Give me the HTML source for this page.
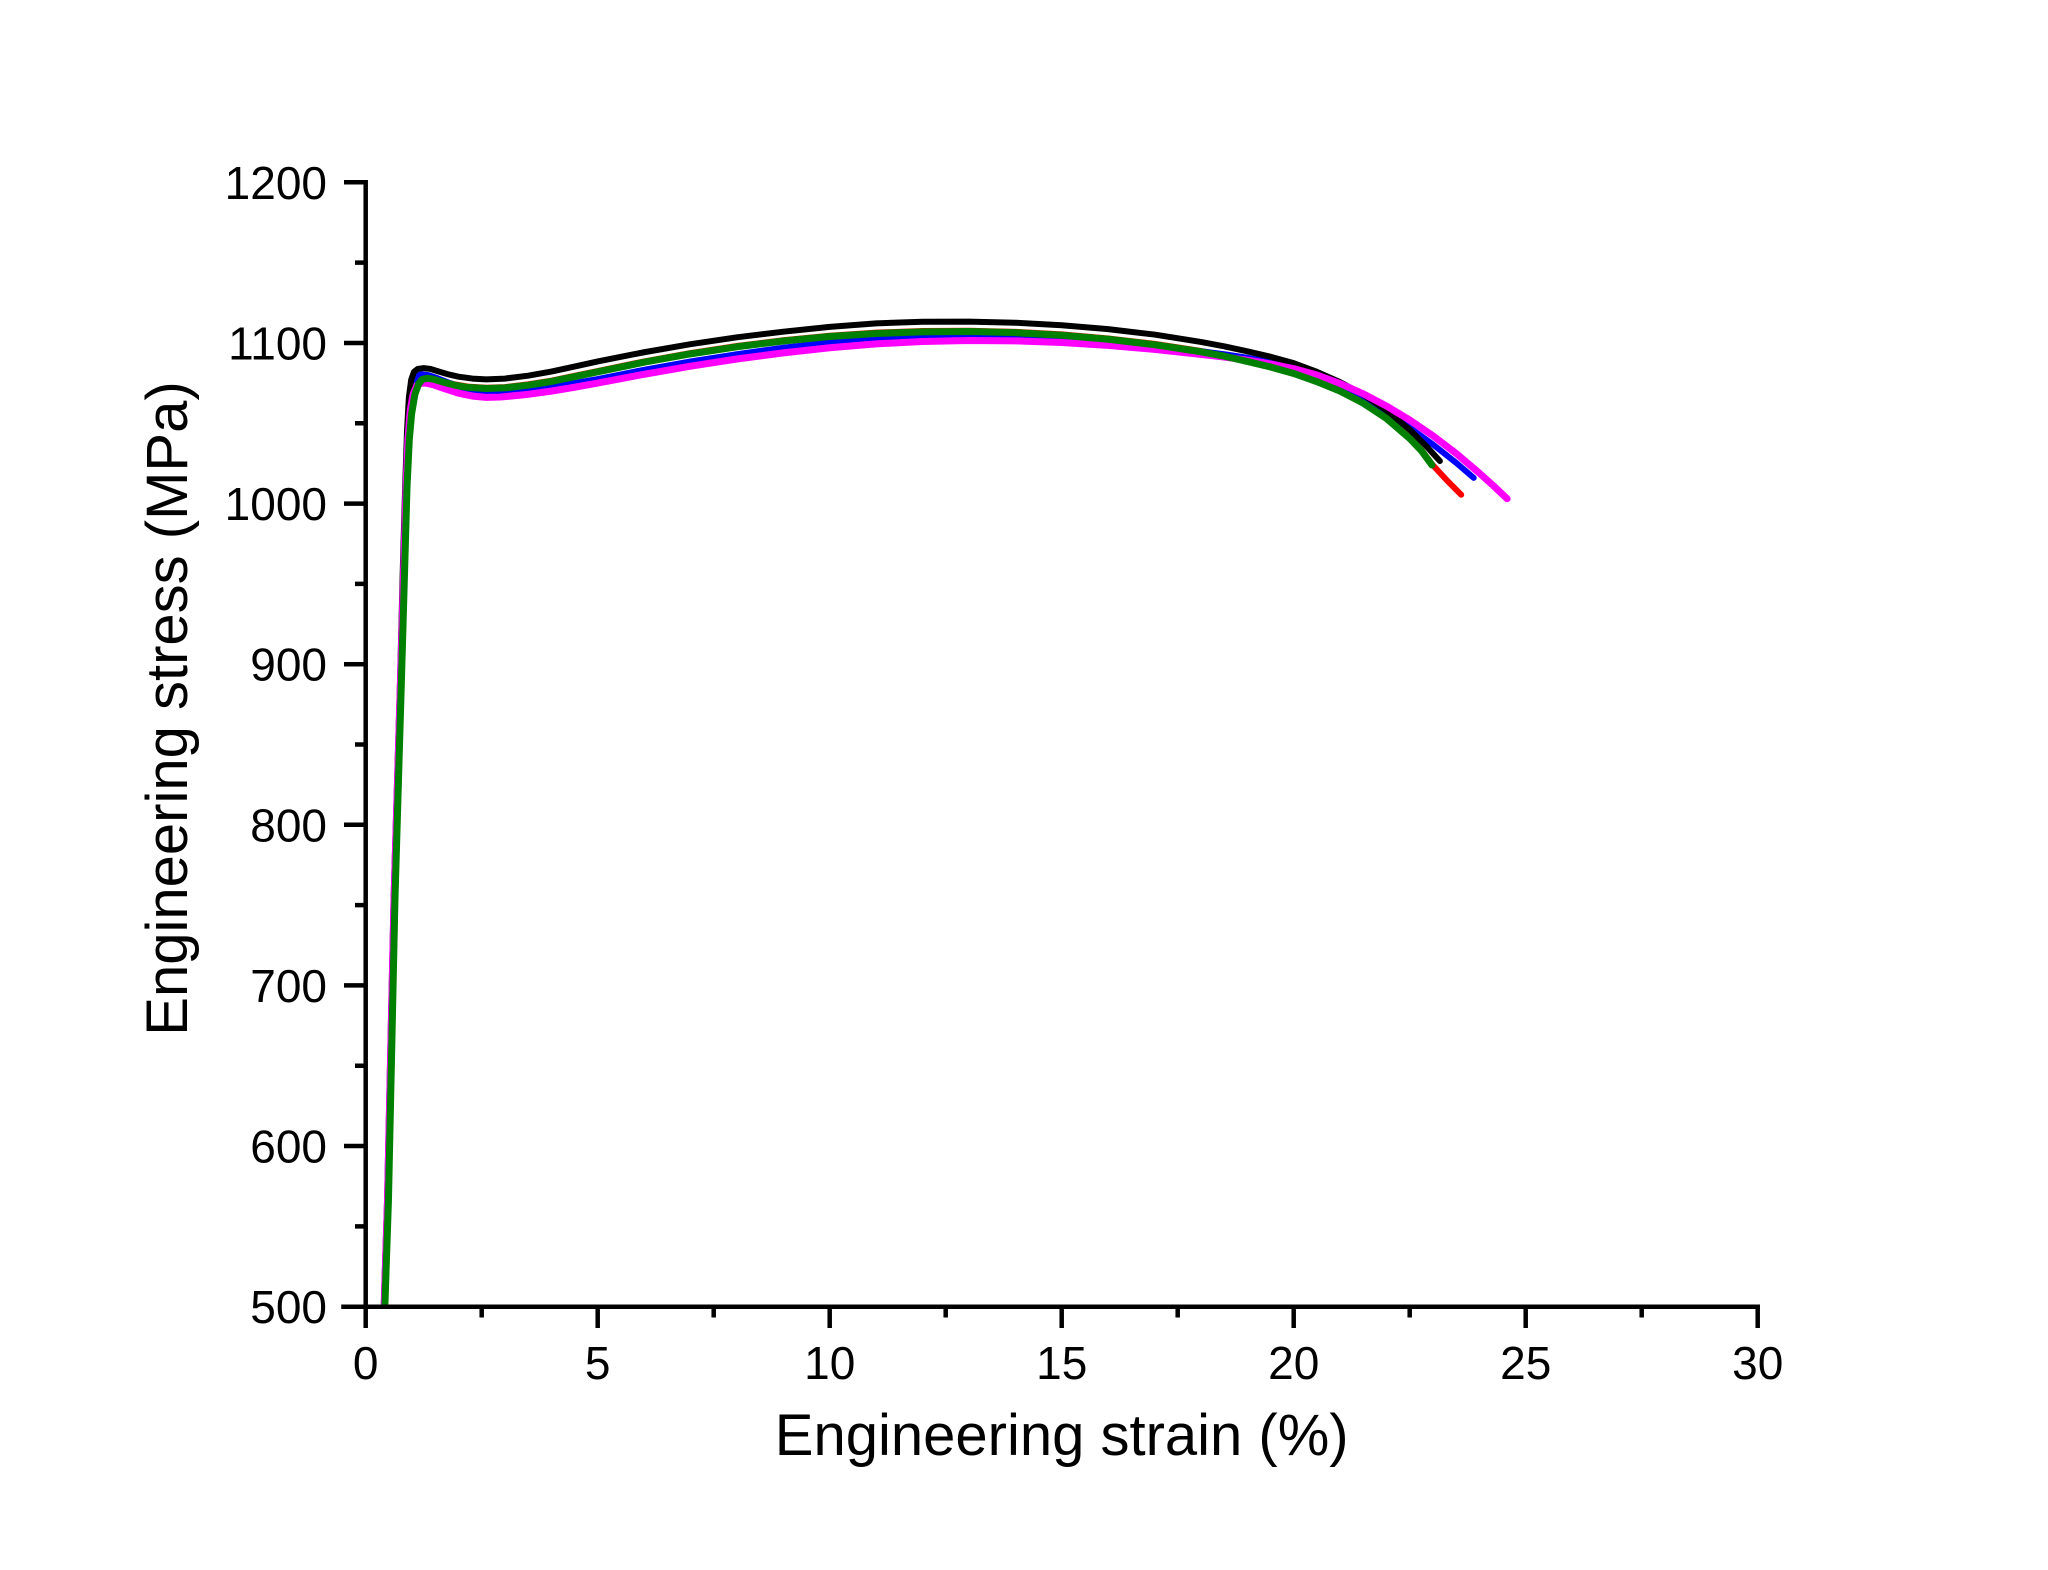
<!DOCTYPE html>
<html>
<head>
<meta charset="utf-8">
<style>
html,body{margin:0;padding:0;background:#fff;}
svg{display:block;}
text{font-family:"Liberation Sans",Arial,sans-serif;fill:#000;}
</style>
</head>
<body>
<svg width="2048" height="1570" viewBox="0 0 2048 1570" xmlns="http://www.w3.org/2000/svg">
<rect x="0" y="0" width="2048" height="1570" fill="#fff"/>

<!-- curves in data coordinates -->
<g transform="matrix(46.4 0 0 -1.6063 365.7 2109.86)" fill="none" stroke-linejoin="round" stroke-linecap="round">
  <!-- red -->
  <polyline vector-effect="non-scaling-stroke" stroke="#ff0000" stroke-width="6" points="0.415,502 0.49,566 0.63,753 0.77,890 0.84,960 0.89,1010 0.94,1040 0.99,1056.5 1.06,1068.5 1.14,1075 1.22,1077.8 1.32,1078.5 1.45,1078 1.65,1076.3 1.9,1074.3 2.2,1072.8 2.6,1072.1 3.0,1072.5 3.5,1074.2 4.0,1076.5 4.5,1079.5 5.0,1082.5 6,1088.5 7,1093.7 8,1098.1 9,1101.7 10,1104.5 11,1106.4 12,1107.4 13,1107.6 14,1106.9 15,1105.3 16,1102.8 17,1099.4 18,1095 18.5,1092.3 19,1089 19.5,1085.5 20,1081.5 20.5,1076.4 21,1070.5 21.5,1063 22,1053.5 22.5,1041 22.75,1033.5 22.98,1024.5 23.3,1014.5 23.61,1005.5"/>
  <!-- blue -->
  <polyline vector-effect="non-scaling-stroke" stroke="#0000ff" stroke-width="6" points="0.40,502 0.47,566 0.61,753 0.75,890 0.82,960 0.86,1010 0.90,1045 0.95,1065 1.01,1075 1.09,1079.5 1.2,1080.5 1.35,1080 1.55,1078 1.8,1075.2 2.1,1072 2.6,1069.5 3.0,1069.9 3.5,1071 4.0,1072.8 4.5,1075 5.0,1077.5 6,1083.3 7,1088.5 8,1093 9,1097 10,1100.3 11,1102.6 12,1103.9 13,1104.4 14,1104.1 15,1103 16,1101 17,1098.2 18,1094.8 18.5,1093 19,1090.8 19.5,1088 20,1084.3 20.5,1079.2 21,1073 21.5,1065.3 22,1056.6 22.5,1047.2 23,1036.8 23.5,1025.4 23.88,1016"/>
  <!-- black -->
  <polyline vector-effect="non-scaling-stroke" stroke="#000000" stroke-width="6" points="0.39,502 0.46,566 0.60,753 0.74,890 0.80,960 0.85,1010 0.89,1045 0.93,1066 0.98,1077 1.04,1082 1.12,1083.8 1.25,1084.3 1.4,1083.8 1.6,1082 1.8,1080.3 2.0,1079 2.3,1077.8 2.6,1077.3 3.0,1077.8 3.5,1079.6 4.0,1082.2 4.5,1085.3 5.0,1088.5 6,1094.2 7,1099.2 8,1103.5 9,1107 10,1110 11,1112.2 12,1113.2 13,1113.3 14,1112.6 15,1111 16,1108.6 17,1105.2 18,1100.6 18.5,1097.9 19,1094.8 19.5,1091.4 20,1087.4 20.5,1082 21,1075.6 21.5,1067.8 22,1058 22.5,1046 22.85,1036 23.15,1026.5"/>
  <!-- magenta -->
  <polyline vector-effect="non-scaling-stroke" stroke="#ff00ff" stroke-width="7" points="0.40,502 0.47,566 0.61,753 0.75,890 0.82,960 0.87,1010 0.91,1040 0.96,1058 1.02,1068 1.1,1073.5 1.2,1075 1.3,1075 1.45,1074 1.7,1071.5 2.0,1068.7 2.3,1066.9 2.6,1066.1 2.9,1066.3 3.5,1068 4.0,1070 4.5,1072.4 5.0,1075 6,1080.5 7,1085.5 8,1090 9,1093.8 10,1097 11,1099.4 12,1100.9 13,1101.5 14,1101.3 15,1100.3 16,1098.5 17,1096 18,1092.9 18.5,1091.2 19,1089.3 19.5,1086.9 20,1084 20.5,1080 21,1074.7 21.5,1068.3 22,1060.7 22.5,1052 23,1042.2 23.5,1031.2 24,1019 24.3,1011.2 24.6,1003"/>
  <!-- green -->
  <polyline vector-effect="non-scaling-stroke" stroke="#008000" stroke-width="7" points="0.415,502 0.49,566 0.63,753 0.77,890 0.84,960 0.89,1010 0.94,1040 0.99,1056 1.06,1068 1.14,1074.5 1.22,1077.3 1.32,1078 1.45,1077.5 1.65,1075.8 1.9,1073.8 2.2,1072.3 2.6,1071.6 3.0,1072 3.5,1073.7 4.0,1076 4.5,1079 5.0,1082 6,1088 7,1093.2 8,1097.6 9,1101.2 10,1104 11,1105.9 12,1106.9 13,1107.1 14,1106.4 15,1104.8 16,1102.3 17,1098.9 18,1094.5 18.5,1091.8 19,1088.5 19.5,1085 20,1081 20.5,1075.9 21,1070 21.5,1062.5 22,1053 22.5,1040.5 22.75,1033 22.98,1024"/>
</g>

<!-- axes -->
<g stroke="#000" stroke-width="4.5" fill="none">
  <path d="M365.7 182.3 V1306.7" stroke-linecap="square"/>
  <path d="M343.5 1306.7 H1757.7" stroke-linecap="square"/>
  <!-- y major ticks -->
  <path d="M344 182.3 H365.7 M344 343 H365.7 M344 503.6 H365.7 M344 664.2 H365.7 M344 824.8 H365.7 M344 985.4 H365.7 M344 1146 H365.7"/>
  <!-- y minor ticks -->
  <path d="M355 262.6 H365.7 M355 423.3 H365.7 M355 583.9 H365.7 M355 744.5 H365.7 M355 905.1 H365.7 M355 1065.7 H365.7 M355 1226.4 H365.7"/>
  <!-- x major ticks -->
  <path d="M365.7 1306.7 V1328 M597.7 1306.7 V1328 M829.7 1306.7 V1328 M1061.7 1306.7 V1328 M1293.7 1306.7 V1328 M1525.7 1306.7 V1328 M1757.7 1304.5 V1328"/>
  <!-- x minor ticks -->
  <path d="M481.7 1306.7 V1317.5 M713.7 1306.7 V1317.5 M945.7 1306.7 V1317.5 M1177.7 1306.7 V1317.5 M1409.7 1306.7 V1317.5 M1641.7 1306.7 V1317.5"/>
</g>

<!-- y tick labels -->
<g font-size="46" text-anchor="end">
  <text x="327" y="198.8">1200</text>
  <text x="327" y="359.5">1100</text>
  <text x="327" y="520.1">1000</text>
  <text x="327" y="680.7">900</text>
  <text x="327" y="841.3">800</text>
  <text x="327" y="1001.9">700</text>
  <text x="327" y="1162.5">600</text>
  <text x="327" y="1323.2">500</text>
</g>

<!-- x tick labels -->
<g font-size="46" text-anchor="middle">
  <text x="365.7" y="1379">0</text>
  <text x="597.7" y="1379">5</text>
  <text x="829.7" y="1379">10</text>
  <text x="1061.7" y="1379">15</text>
  <text x="1293.7" y="1379">20</text>
  <text x="1525.7" y="1379">25</text>
  <text x="1757.7" y="1379">30</text>
</g>

<!-- axis titles -->
<text x="1061.7" y="1455" font-size="58" text-anchor="middle">Engineering strain (%)</text>
<text transform="translate(187,708.5) rotate(-90)" font-size="58" text-anchor="middle">Engineering stress (MPa)</text>
</svg>
</body>
</html>
